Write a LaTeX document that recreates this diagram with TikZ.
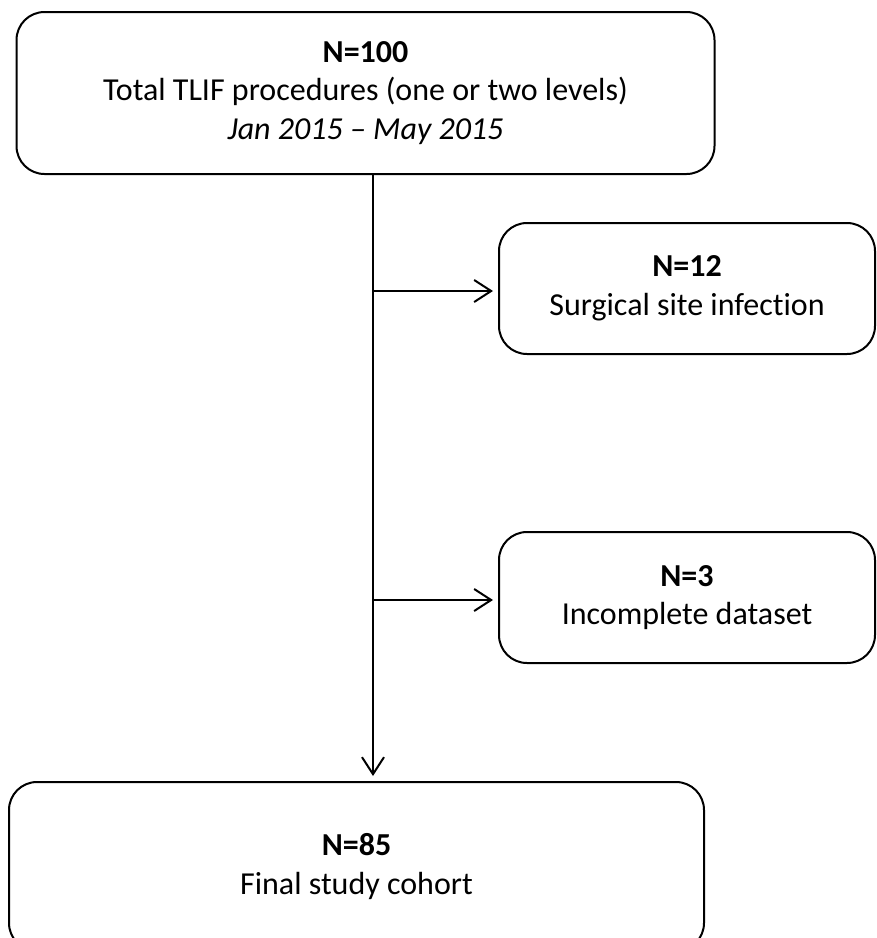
\documentclass[tikz,border=0pt]{standalone}
\usepackage{fontspec}
\setmainfont{Carlito}[Ligatures=NoCommon]
\usetikzlibrary{arrows.meta}
\begin{document}
\begin{tikzpicture}[x=1pt,y=-1pt,
  box/.style={draw,line width=2pt,rounded corners=28pt,align=center,inner sep=0pt,
    font=\fontsize{32}{38.5}\selectfont},
  arr/.style={line width=2pt,shorten >=5pt,-{Straight Barb[length=17pt,width=22pt,line width=2pt]}}]
\useasboundingbox (0,0) rectangle (877,938);
\begin{scope}
\clip (0,0) rectangle (877,938);
\node[box,minimum width=698pt,minimum height=162pt] (top) at (365.5,93)
  {\textbf{N=100}\\Total TLIF procedures (one or two levels)\\\textit{Jan 2015 – May 2015}};
\node[box,minimum width=376pt,minimum height=131pt] (r1) at (687,288.5)
  {\textbf{N=12}\\Surgical site infection};
\node[box,minimum width=376pt,minimum height=131pt] (r2) at (687,597.5)
  {\textbf{N=3}\\Incomplete dataset};
\node[box,minimum width=695pt,minimum height=169pt] (bot) at (356.5,866.5)
  {\textbf{N=85}\\Final study cohort};
\end{scope}
\coordinate (s) at (373,0 |- top.south);
\coordinate (j1) at (s |- 0,291);
\coordinate (j2) at (s |- 0,600);
\draw[arr] (s) -- (s |- bot.north);
\draw[arr] (j1) -- (j1 -| r1.west);
\draw[arr] (j2) -- (j2 -| r2.west);
\end{tikzpicture}
\end{document}
